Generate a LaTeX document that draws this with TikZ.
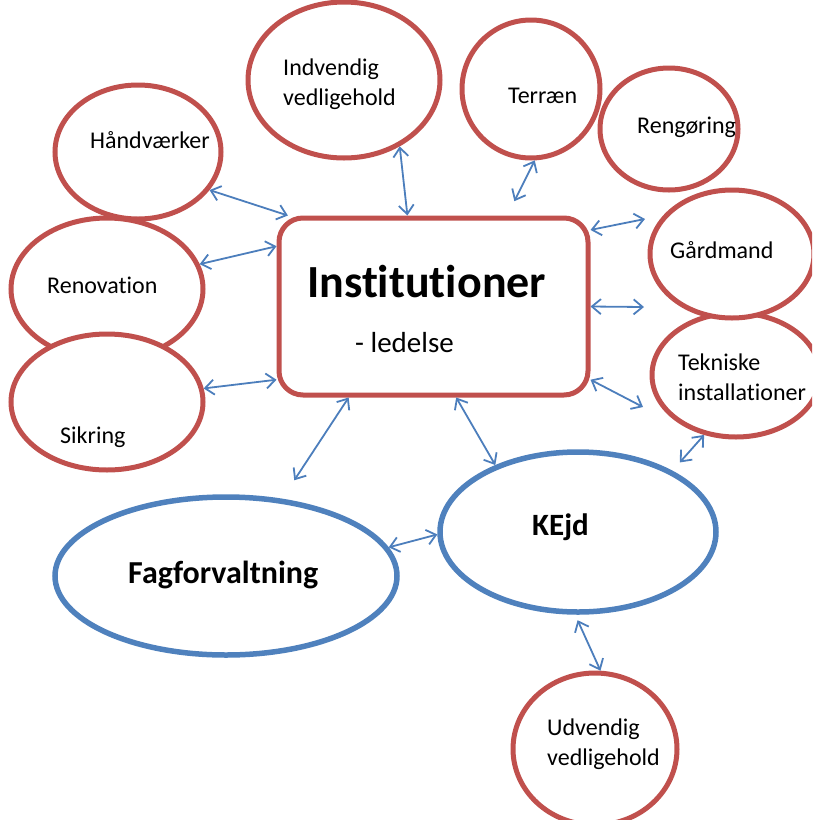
\documentclass[tikz,border=0pt]{standalone}
\usepackage{fontspec}
\setmainfont{Carlito}[Ligatures={NoCommon,NoContextual}]
\usetikzlibrary{shapes.geometric,arrows.meta}
\definecolor{ered}{RGB}{192,80,77}
\definecolor{eblue}{RGB}{79,129,189}
\definecolor{ablue}{RGB}{76,126,188}

\begin{document}
\begin{tikzpicture}[x=1pt,y=-1pt,
  bubble/.style={ellipse,draw=ered,line width=5pt,fill=white,inner sep=0pt},
  bigbubble/.style={ellipse,draw=eblue,line width=5.5pt,fill=white,inner sep=0pt},
  txt/.style={inner sep=0pt,anchor=base west,align=left,font=\fontsize{24}{30}\selectfont},
  conn/.style={line width=1.8pt,ablue,{Straight Barb[length=9pt,width=15pt]}-{Straight Barb[length=9pt,width=15pt]}}]
\useasboundingbox (0,0) rectangle (812,820);
\clip (0,0) rectangle (812,820);

 \node[bubble,minimum width=166,minimum height=134] (hand) at (138,152) {};
 \node[txt] (handtxt) at (90,148) {Håndværker};
 \node[bubble,minimum width=192,minimum height=156] (indv) at (344,80) {};
 \node[txt] (indvtxt) at (283,105) {Indvendig\\vedligehold};
 \node[bubble,minimum width=138,minimum height=138] (terr) at (531,89) {};
 \node[txt] (terrtxt) at (508,103) {Terræn};
 \node[bubble,minimum width=138,minimum height=122] (reng) at (669,129) {};
 \node[txt] (rengtxt) at (637,133) {Rengøring};
 \node[bubble,minimum width=168,minimum height=124] (tek) at (736,375) {};
 \node[txt] (tektxt) at (678,400) {Tekniske\\installationer};
 \node[bubble,minimum width=164,minimum height=128] (gaard) at (732,254) {};
 \node[txt] (gaardtxt) at (670,258) {Gårdmand};
 \node[bubble,minimum width=192,minimum height=142] (renov) at (107,289) {};
 \node[txt] (renovtxt) at (47,293) {Renovation};
 \node[bubble,minimum width=192,minimum height=136] (sik) at (107,402) {};
 \node[txt] (siktxt) at (60,443) {Sikring};
 \node[bubble,minimum width=164,minimum height=152] (udv) at (595,749) {};
 \node[txt] (udvtxt) at (547,765) {Udvendig\\vedligehold};

 \node[draw=ered,line width=5pt,fill=white,rounded corners=24pt,minimum width=309,minimum height=177] (inst) at (433.5,306.5) {};
 \node[txt,font=\fontsize{46}{50}\selectfont\bfseries] (insttxt) at (307,297) {Institutioner};
 \node[txt,font=\fontsize{29}{34}\selectfont] (ledtxt) at (355,352) {- ledelse};

 \node[bigbubble,minimum width=342,minimum height=158] (fag) at (226,576) {};
 \node[txt,font=\fontsize{32}{38}\selectfont\bfseries] (fagtxt) at (128,583) {Fagforvaltning};
 \node[bigbubble,minimum width=276,minimum height=160] (kejd) at (578,532) {};
 \node[txt,font=\fontsize{31}{36}\selectfont\bfseries] (kejdtxt) at (532,535) {KEjd};

 \coordinate (rengend) at (645,219);
 \coordinate (gaardend) at (644,307);
 \coordinate (tekend) at (643,407);

 \draw[conn] (hand.-28) -- (inst.148);
 \draw[conn] (renov.15) -- (inst.159);
 \draw[conn] (sik.8) -- (inst.205);
 \draw[conn] (indv.-50) -- (inst.106);
 \draw[conn,shorten <=16pt] (inst.51) -- (terr.-87);
 \draw[conn] (inst.26) -- (rengend);
 \draw[conn] (inst.east) -- (gaardend);
 \draw[conn] (inst.-25) -- (tekend);
 \draw[conn,shorten >=22pt] (inst.227) -- (fag.54);
 \draw[conn] (inst.-76) -- (kejd.141);
 \draw[conn] (fag.10) -- (kejd.181);
 \draw[conn,shorten >=11pt] (tek.-118) -- (kejd.33);
 \draw[conn,shorten <=6pt] (kejd.-92) -- (udv.86);
\end{tikzpicture}
\end{document}
